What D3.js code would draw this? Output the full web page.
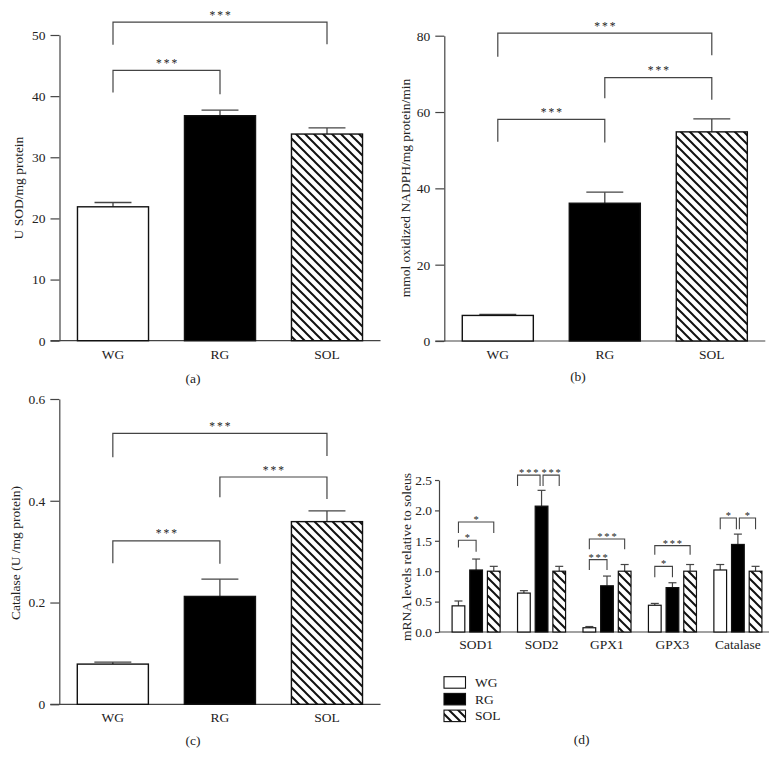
<!DOCTYPE html>
<html>
<head>
<meta charset="utf-8">
<script src="https://cdn.jsdelivr.net/npm/d3@7"></script>
<style>
  html, body { margin: 0; padding: 0; background: #fff; }
  svg { display: block; }
  text { font-family: "Liberation Serif", "Times New Roman", serif; fill: #222; }
</style>
</head>
<body>
<div id="chart"></div>
<script>
// ---------- DATA ----------
const groups = ["WG", "RG", "SOL"];

// (a) SOD activity
const sodTicks = [0, 10, 20, 30, 40, 50];
const sodValues = [21.9, 36.8, 33.8];
const sodErrors = [0.7, 0.9, 1.0];
const sodBrackets = [
  { from: 0, to: 1, y: 44.2, ends: [40.6, 40.3], label: "***" },
  { from: 0, to: 2, y: 52.1, ends: [48.4, 48.5], label: "***" }
];

// (b) oxidized NADPH
const nadphTicks = [0, 20, 40, 60, 80];
const nadphValues = [6.7, 36.1, 54.8];
const nadphErrors = [0.3, 2.9, 3.4];
const nadphBrackets = [
  { from: 0, to: 1, y: 58.1, ends: [52.2, 52.0], label: "***" },
  { from: 1, to: 2, y: 69.0, ends: [63.6, 63.2], label: "***" },
  { from: 0, to: 2, y: 80.7, ends: [74.5, 74.9], label: "***" }
];

// (c) Catalase activity
const catTicks = [0, 0.2, 0.4, 0.6];
const catTickLabels = ["0", "0.2", "0.4", "0.6"];
const catValues = [0.079, 0.212, 0.359];
const catErrors = [0.004, 0.034, 0.021];
const catBrackets = [
  { from: 0, to: 1, y: 0.321, ends: [0.277, 0.276], label: "***" },
  { from: 1, to: 2, y: 0.4467, ends: [0.4068, 0.4035], label: "***" },
  { from: 0, to: 2, y: 0.5326, ends: [0.4855, 0.488], label: "***" }
];

// (d) mRNA levels
const genes = ["SOD1", "SOD2", "GPX1", "GPX3", "Catalase"];
const mrnaTicks = [0, 0.5, 1.0, 1.5, 2.0, 2.5];
const mrnaTickLabels = ["0.0", "0.5", "1.0", "1.5", "2.0", "2.5"];
const mrnaWG = [0.43, 0.64, 0.07, 0.44, 1.02];
const mrnaWGErr = [0.08, 0.04, 0.02, 0.03, 0.09];
const mrnaRG = [1.02, 2.07, 0.76, 0.73, 1.44];
const mrnaRGErr = [0.18, 0.26, 0.16, 0.08, 0.17];
const mrnaSOL = [1.0, 1.0, 1.0, 1.0, 1.0];
const mrnaSOLErr = [0.08, 0.08, 0.11, 0.11, 0.08];
const mrnaBrackets = [
  { gene: 0, from: 0, to: 1, y: 1.51, ends: [1.39, 1.32], label: "*" },
  { gene: 0, from: 0, to: 2, y: 1.81, ends: [1.63, 1.63], label: "*" },
  { gene: 1, from: 0, to: 1, y: 2.58, ends: [2.40, 2.40], label: "***", edge: true },
  { gene: 1, from: 1, to: 2, y: 2.58, ends: [2.40, 2.40], label: "***" },
  { gene: 2, from: 0, to: 1, y: 1.19, ends: [1.02, 1.02], label: "***" },
  { gene: 2, from: 0, to: 2, y: 1.53, ends: [1.36, 1.36], label: "***" },
  { gene: 3, from: 0, to: 1, y: 1.08, ends: [0.90, 0.90], label: "*" },
  { gene: 3, from: 0, to: 2, y: 1.42, ends: [1.27, 1.27], label: "***" },
  { gene: 4, from: 0, to: 1, y: 1.875, ends: [1.69, 1.69], label: "*" },
  { gene: 4, from: 1, to: 2, y: 1.875, ends: [1.69, 1.69], label: "*" }
];

// ---------- DRAWING ----------
const W = 778, H = 766;
const svg = d3.select("#chart").append("svg").attr("width", W).attr("height", H);
svg.append("rect").attr("width", W).attr("height", H).attr("fill", "#fff");

const defs = svg.append("defs");
const pat = defs.append("pattern").attr("id", "hatch")
  .attr("patternUnits", "userSpaceOnUse").attr("width", 9).attr("height", 9);
pat.append("rect").attr("width", 9).attr("height", 9).attr("fill", "#fff");
pat.append("path").attr("d", "M-1,-1 L10,10 M-5.5,3.5 L1,10 M3.5,-5.5 L10,1")
  .attr("stroke", "#111").attr("stroke-width", 2).attr("fill", "none");

const fills = ["#fff", "#000", "url(#hatch)"];
const AXIS = "#444";
const FS = 13.5;

function styleAxis(g) {
  g.selectAll("path.domain").attr("stroke", AXIS).attr("stroke-width", 1.2);
  g.selectAll(".tick line").attr("stroke", AXIS).attr("stroke-width", 1.2);
  g.selectAll(".tick text").attr("font-size", FS)
    .attr("font-family", "Liberation Serif, serif").attr("fill", "#222");
}

function drawStars(g, x, y, label, size, spacing) {
  const sp = label.length > 1 ? spacing : 0;
  g.append("text").attr("x", x + sp / 2).attr("y", y)
    .attr("text-anchor", "middle").attr("dominant-baseline", "central")
    .attr("font-size", size).attr("letter-spacing", sp)
    .attr("fill", "#444").text(label);
}

function barPanel(o) {
  const g = svg.append("g");
  const x = d3.scaleBand().domain(groups).range(o.xRange)
    .paddingInner(0.336).paddingOuter(0.168);
  const y = d3.scaleLinear().domain([0, o.ticks[o.ticks.length - 1]]).range(o.yRange);
  const ax = o.xRange[0];

  const ya = g.append("g").attr("transform", `translate(${ax},0)`)
    .call(d3.axisLeft(y).tickValues(o.ticks).tickSize(9).tickSizeOuter(0).tickPadding(5)
      .tickFormat((d, i) => o.tickLabels ? o.tickLabels[i] : d));
  styleAxis(ya);
  g.append("line").attr("x1", ax - 9).attr("x2", o.xRange[1])
    .attr("y1", y(0)).attr("y2", y(0)).attr("stroke", AXIS).attr("stroke-width", 1.2);

  const bw = x.bandwidth();
  groups.forEach((k, i) => {
    const cx = x(k) + bw / 2;
    const top = y(o.values[i] + o.errors[i]);
    g.append("line").attr("x1", cx).attr("x2", cx).attr("y1", y(o.values[i])).attr("y2", top)
      .attr("stroke", "#444").attr("stroke-width", 1.3);
    g.append("line").attr("x1", cx - bw * 0.26).attr("x2", cx + bw * 0.26)
      .attr("y1", top).attr("y2", top).attr("stroke", "#444").attr("stroke-width", 1.3);
  });
  g.selectAll("rect.bar").data(o.values).join("rect").attr("class", "bar")
    .attr("x", (d, i) => x(groups[i])).attr("width", bw)
    .attr("y", d => y(d)).attr("height", d => y(0) - y(d))
    .attr("fill", (d, i) => fills[i]).attr("stroke", "#111").attr("stroke-width", 1.4);

  groups.forEach(k => {
    g.append("text").attr("x", x(k) + bw / 2).attr("y", y(0) + 18)
      .attr("text-anchor", "middle").attr("font-size", FS).text(k);
  });

  o.brackets.forEach(b => {
    const x1 = x(groups[b.from]) + bw / 2, x2 = x(groups[b.to]) + bw / 2;
    const yy = y(b.y);
    g.append("path").attr("d",
      `M${x1},${y(b.ends[0])} V${yy} H${x2} V${y(b.ends[1])}`)
      .attr("fill", "none").attr("stroke", "#444").attr("stroke-width", 1.2);
    drawStars(g, (x1 + x2) / 2, yy - 7.5, b.label, 11.5, 2);
  });

  g.append("text").attr("transform", `translate(${o.ylabelPos[0]},${o.ylabelPos[1]}) rotate(-90)`)
    .attr("text-anchor", "middle").attr("dominant-baseline", "central")
    .attr("font-size", FS).text(o.ylabel);
  g.append("text").attr("x", o.panelPos[0]).attr("y", o.panelPos[1])
    .attr("text-anchor", "middle").attr("font-size", FS).text(o.panel);
}

barPanel({ values: sodValues, errors: sodErrors, ticks: sodTicks, brackets: sodBrackets,
  xRange: [59.5, 380.5], yRange: [340.7, 35], ylabel: "U SOD/mg protein",
  ylabelPos: [18, 188], panel: "(a)", panelPos: [193, 382.5] });

barPanel({ values: nadphValues, errors: nadphErrors, ticks: nadphTicks, brackets: nadphBrackets,
  xRange: [444.3, 765.3], yRange: [341, 35.7], ylabel: "mmol oxidized NADPH/mg protein/min",
  ylabelPos: [405, 188], panel: "(b)", panelPos: [578, 381] });

barPanel({ values: catValues, errors: catErrors, ticks: catTicks, tickLabels: catTickLabels,
  brackets: catBrackets, xRange: [59.3, 380.5], yRange: [704.3, 399],
  ylabel: "Catalase (U /mg protein)", ylabelPos: [15, 553], panel: "(c)", panelPos: [193, 744.5] });

// ---------- Panel (d) ----------
(function () {
  const g = svg.append("g");
  const ax = 439, axEnd = 769;
  const x = d3.scaleBand().domain(genes).range([ax, 775]).paddingInner(0.266).paddingOuter(0.2);
  const xi = d3.scaleBand().domain(groups).range([0, x.bandwidth()]).paddingInner(0.28).paddingOuter(0);
  const y = d3.scaleLinear().domain([0, 2.5]).range([632, 480]);
  const series = [
    { vals: mrnaWG, errs: mrnaWGErr },
    { vals: mrnaRG, errs: mrnaRGErr },
    { vals: mrnaSOL, errs: mrnaSOLErr }
  ];

  const ya = g.append("g").attr("transform", `translate(${ax},0)`)
    .call(d3.axisLeft(y).tickValues(mrnaTicks).tickSize(4).tickSizeOuter(0).tickPadding(3)
      .tickFormat((d, i) => mrnaTickLabels[i]));
  styleAxis(ya);
  g.append("line").attr("x1", ax).attr("x2", axEnd).attr("y1", y(0)).attr("y2", y(0))
    .attr("stroke", AXIS).attr("stroke-width", 1.2);

  const bw = xi.bandwidth();
  genes.forEach((gene, gi) => {
    series.forEach((s, si) => {
      const bx = x(gene) + xi(groups[si]);
      const cx = bx + bw / 2;
      const top = y(s.vals[gi] + s.errs[gi]);
      g.append("line").attr("x1", cx).attr("x2", cx).attr("y1", y(s.vals[gi])).attr("y2", top)
        .attr("stroke", "#444").attr("stroke-width", 1.2);
      g.append("line").attr("x1", cx - 4).attr("x2", cx + 4).attr("y1", top).attr("y2", top)
        .attr("stroke", "#444").attr("stroke-width", 1.2);
      g.append("rect").attr("x", bx).attr("width", bw)
        .attr("y", y(s.vals[gi])).attr("height", y(0) - y(s.vals[gi]))
        .attr("fill", fills[si]).attr("stroke", "#111").attr("stroke-width", 1.2);
    });
    g.append("text").attr("x", x(gene) + x.bandwidth() / 2).attr("y", y(0) + 16.5)
      .attr("text-anchor", "middle").attr("font-size", FS).text(gene);
  });

  mrnaBrackets.forEach(b => {
    const base = x(genes[b.gene]);
    let x1 = base + xi(groups[b.from]) + (b.edge ? 0 : bw / 2);
    let x2 = base + xi(groups[b.to]) + bw / 2;
    const shared = mrnaBrackets.some(o => o !== b && o.gene === b.gene && o.y === b.y);
    if (shared) {
      if (b.from === 1) x1 += 1.5; else x2 -= 1.5;
    }
    const yy = y(b.y);
    g.append("path").attr("d", `M${x1},${y(b.ends[0])} V${yy} H${x2} V${y(b.ends[1])}`)
      .attr("fill", "none").attr("stroke", "#444").attr("stroke-width", 1.1);
    drawStars(g, (x1 + x2) / 2, yy - 2.5, b.label, 10.5, 1.8);
  });

  g.append("text").attr("transform", `translate(406,557) rotate(-90)`)
    .attr("text-anchor", "middle").attr("dominant-baseline", "central")
    .attr("font-size", FS).text("mRNA levels relative to soleus");

  const leg = g.append("g");
  groups.forEach((k, i) => {
    const ly = 676.7 + i * 16.7;
    leg.append("rect").attr("x", 444).attr("y", ly).attr("width", 21.5).attr("height", 11.5)
      .attr("fill", fills[i]).attr("stroke", "#111").attr("stroke-width", 1.1);
    leg.append("text").attr("x", 475).attr("y", ly + 10.3).attr("font-size", FS).text(k);
  });

  g.append("text").attr("x", 581.7).attr("y", 744).attr("text-anchor", "middle")
    .attr("font-size", FS).text("(d)");
})();
</script>
</body>
</html>
